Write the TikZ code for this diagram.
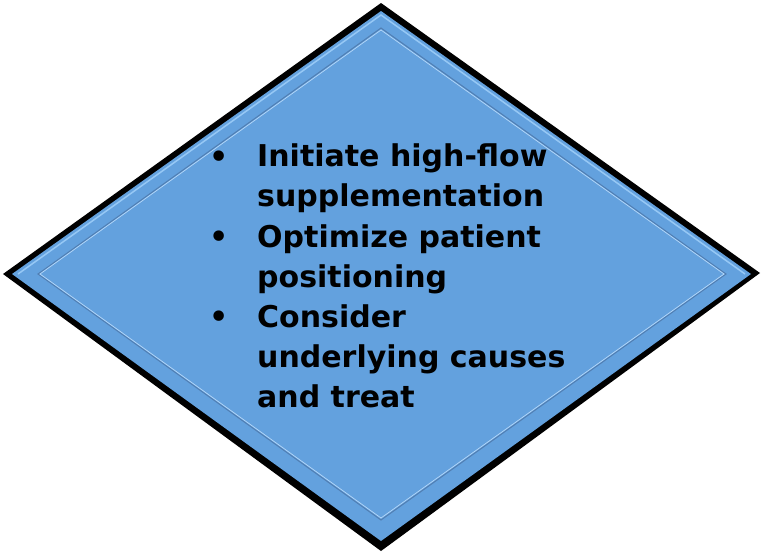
\documentclass[tikz,border=0pt]{standalone}
\usepackage{fontspec}
\setmainfont{DejaVu Sans}
\usepackage{xcolor}
\usetikzlibrary{positioning}
\definecolor{boxblue}{RGB}{99,161,222}
\definecolor{edgeblue}{RGB}{62,112,170}
\definecolor{lightblue}{RGB}{150,200,245}

\begin{document}
\begin{tikzpicture}[x=1pt, y=-1pt,
  item/.style={anchor=base west, align=left, inner sep=0pt,
    font=\fontsize{30}{40}\selectfont\bfseries},
  dot/.style={anchor=base, inner sep=0pt, font=\fontsize{36}{40}\selectfont}
]
\useasboundingbox (0,0) rectangle (763,552);

% Diamond body
\fill[black] (381,3) -- (760,273) -- (381,551) -- (3,274) -- cycle;
\fill[boxblue] (381,11) -- (751,274) -- (381,541) -- (12,274) -- cycle;
\draw[lightblue, line width=1.5pt] (18,274) -- (381,15) -- (745,274);
\draw[edgeblue!90, line width=1pt] (381,28) -- (726,274) -- (381,520) -- (38,274) -- cycle;
\draw[lightblue!70, line width=0.7pt] (381,30) -- (724,274) -- (381,518) -- (40,274) -- cycle;

% Bullet items (anchored at the baseline of their last line)
\node[item] (first) at (257,206) {Initiate high-flow\\supplementation};
\node[item] (second) at (257,287) {Optimize patient\\positioning};
\node[item] (third) at (257,407) {Consider\\underlying causes\\and treat};

\node[dot] (b1) at (219,169) {•};
\node[dot] (b2) at (219,249) {•};
\node[dot] (b3) at (219,329) {•};

\end{tikzpicture}
\end{document}
